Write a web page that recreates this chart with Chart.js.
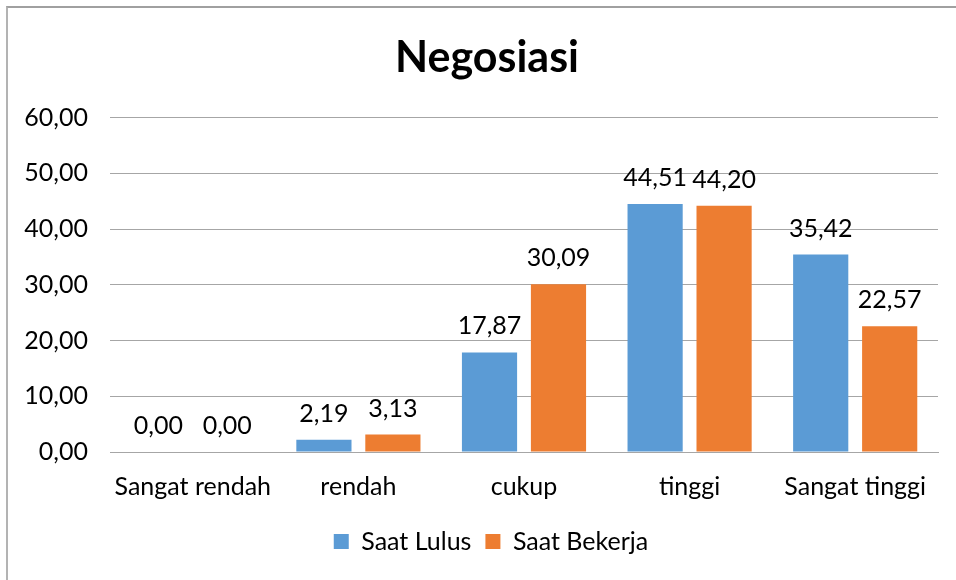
<!DOCTYPE html>
<html lang="id">
<head>
<meta charset="UTF-8">
<title>Negosiasi</title>
<script src="https://cdn.jsdelivr.net/npm/chart.js@4.4.0/dist/chart.umd.min.js"></script>
<style>
  html, body { margin: 0; padding: 0; background: #fff; overflow: hidden; }
  #wrap { width: 956px; height: 580px; position: relative; }
  #frame { position: absolute; left: 6px; top: 6px; width: 960px; height: 600px;
           border-left: 2px solid #b3b3b3; border-top: 2px solid #a0a0a0; }
  #chartBox { position: absolute; left: 0; top: 0; width: 956px; height: 580px; }
</style>
</head>
<body>
<div id="wrap">
  <div id="frame"></div>
  <div id="chartBox"><canvas id="myChart"></canvas></div>
</div>
<script>
// data
const categories = ['Sangat rendah', 'rendah', 'cukup', 'tinggi', 'Sangat tinggi'];
const saatLulus = [0.00, 2.19, 17.87, 44.51, 35.42];
const saatBekerja = [0.00, 3.13, 30.09, 44.20, 22.57];
const yTicks = [0, 10, 20, 30, 40, 50, 60];

const fmt = v => v.toFixed(2).replace('.', ',');
const FONT = 'Lato, "Open Sans", sans-serif';

// value labels above the bars
const valueLabels = {
    id: 'valueLabels',
    afterDatasetsDraw(chart) {
        const ctx = chart.ctx;
        ctx.save();
        ctx.font = '25px ' + FONT;
        ctx.fillStyle = '#000';
        ctx.textAlign = 'center';
        ctx.textBaseline = 'alphabetic';
        chart.data.datasets.forEach((ds, i) => {
            chart.getDatasetMeta(i).data.forEach((bar, j) => {
                ctx.fillText(fmt(ds.data[j]), bar.x, bar.y - 18);
            });
        });
        ctx.restore();
    }
};

// title and legend sit a bit right of the canvas centre in the original
const shiftBlocks = {
    id: 'shiftBlocks',
    afterLayout(chart) {
        if (chart.titleBlock) chart.titleBlock.left = 36;
        if (chart.legend) chart.legend.left = 44;
    }
};

const ctx = document.getElementById('myChart').getContext('2d');
new Chart(ctx, {
    type: 'bar',
    data: {
        labels: categories,
        datasets: [{
            label: 'Saat Lulus',
            data: saatLulus,
            backgroundColor: '#5B9BD5',
            categoryPercentage: 0.833,
            barPercentage: 0.8
        }, {
            label: 'Saat Bekerja',
            data: saatBekerja,
            backgroundColor: '#ED7D31',
            categoryPercentage: 0.833,
            barPercentage: 0.8
        }]
    },
    options: {
        responsive: true,
        maintainAspectRatio: false,
        animation: false,
        layout: { padding: { left: 0, right: 18, top: 0, bottom: 16 } },
        plugins: {
            title: {
                display: true,
                text: 'Negosiasi',
                color: '#000',
                font: { family: FONT, size: 43, weight: 'bold' },
                padding: { top: 32, bottom: 34 }
            },
            legend: {
                position: 'bottom',
                labels: {
                    color: '#000',
                    font: { family: FONT, size: 25 },
                    boxWidth: 15,
                    boxHeight: 15,
                    padding: 14
                }
            },
            tooltip: { enabled: false }
        },
        scales: {
            x: {
                grid: { display: false, drawTicks: false },
                border: { color: '#a6a6a6', width: 1 },
                ticks: { color: '#000', font: { family: FONT, size: 25 }, padding: 20 },
                afterFit: axis => { axis.height = 63; }
            },
            y: {
                min: 0,
                max: 60,
                afterBuildTicks: axis => { axis.ticks = yTicks.map(v => ({ value: v })); },
                afterFit: axis => { axis.width = 110; },
                grid: { color: '#a6a6a6', drawTicks: false },
                border: { display: false },
                ticks: { color: '#000', font: { family: FONT, size: 25 }, padding: 22, callback: v => fmt(v) }
            }
        }
    },
    plugins: [valueLabels, shiftBlocks]
});
</script>
</body>
</html>
